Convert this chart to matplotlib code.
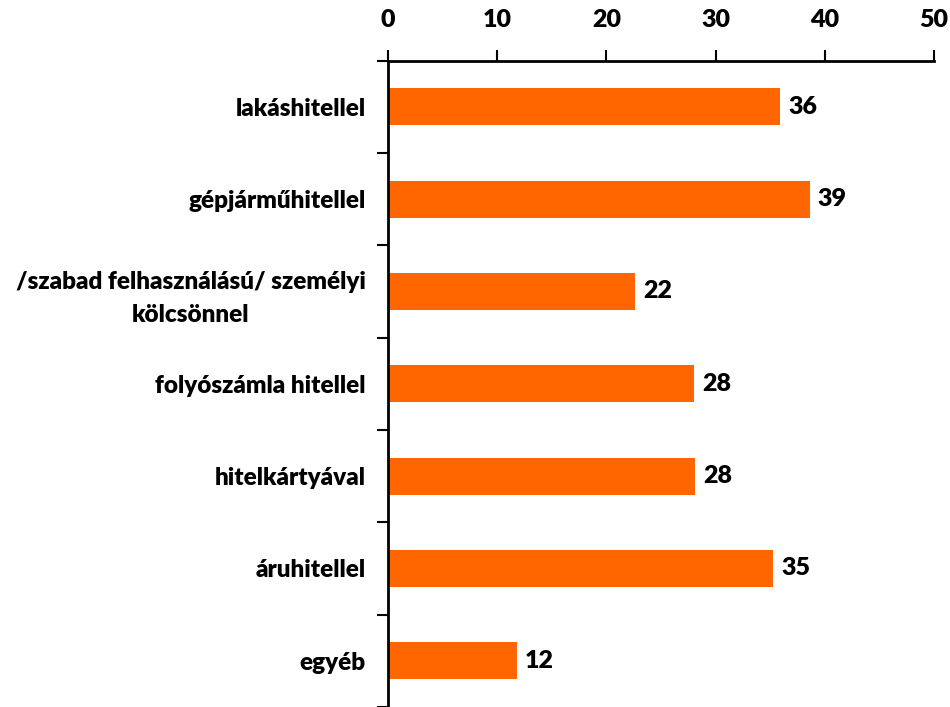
import numpy as np
import matplotlib.pyplot as plt

# ==========================================================
# Data
# ==========================================================

categories = [
    "lakáshitellel",
    "gépjárműhitellel",
    "/szabad felhasználású/ személyi\nkölcsönnel",
    "folyószámla hitellel",
    "hitelkártyával",
    "áruhitellel",
    "egyéb",
]

values = [35.9, 38.6, 22.6, 28.0, 28.1, 35.3, 11.8]
value_labels = ["36", "39", "22", "28", "28", "35", "12"]

x_ticks = [0, 10, 20, 30, 40, 50]

# ==========================================================
# Plot
# ==========================================================

plt.rcParams["font.family"] = ["Lato", "DejaVu Sans"]

fig = plt.figure(figsize=(9.5, 7.07), dpi=100)
ax = fig.add_axes([388 / 950, 0.0, (934 - 388) / 950, 1 - 60.5 / 707])

y = np.arange(len(categories))

ax.barh(
    y,
    values,
    height=0.4,
    color="#FF6600",
)

for yi, v, lab in zip(y, values, value_labels):
    ax.text(
        v + 0.75,
        yi,
        lab,
        va="center",
        ha="left",
        fontsize=18,
        fontweight="heavy",
    )

ax.set_xlim(0, 50)
ax.set_ylim(len(categories) - 0.5, -0.5)

ax.xaxis.tick_top()
ax.set_xticks(x_ticks)
ax.set_xticklabels([str(t) for t in x_ticks], fontsize=18, fontweight="heavy")
ax.tick_params(axis="x", direction="out", length=8, width=1.5, pad=13)

# category ticks sit between bars, labels centred on bars
ax.set_yticks(np.arange(len(categories) + 1) - 0.5)
ax.set_yticklabels([])
ax.set_yticks(y, minor=True)
ax.set_yticklabels(categories, minor=True, fontsize=17.5, fontweight="heavy",
                   ha="right", multialignment="center")
ax.tick_params(axis="y", which="major", direction="out", length=8, width=1.5)
ax.tick_params(axis="y", which="minor", length=0, pad=16)

for lbl in ax.get_yticklabels(minor=True):
    lbl.set_linespacing(1.6)

ax.spines["right"].set_visible(False)
ax.spines["bottom"].set_visible(False)
ax.spines["top"].set_linewidth(2)
ax.spines["left"].set_linewidth(2)

fig.savefig("out.png", dpi=100)
